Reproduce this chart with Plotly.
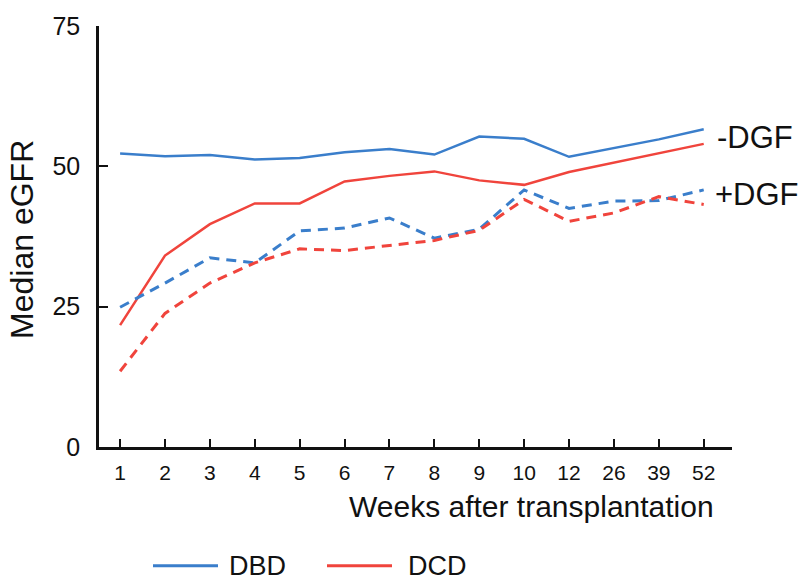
import plotly.graph_objects as go

weeks = ["1", "2", "3", "4", "5", "6", "7", "8", "9", "10", "12", "26", "39", "52"]
dbd_no_dgf = [52.3, 51.8, 52.0, 51.2, 51.5, 52.5, 53.1, 52.1, 55.3, 54.9, 51.7, 53.3, 54.8, 56.6]
dcd_no_dgf = [21.7, 34.1, 39.7, 43.4, 43.4, 47.3, 48.3, 49.1, 47.5, 46.7, 49.0, 50.7, 52.4, 54.0]
dbd_dgf = [24.9, 29.2, 33.7, 32.8, 38.5, 39.0, 40.8, 37.2, 38.8, 45.8, 42.5, 43.8, 43.9, 45.8]
dcd_dgf = [13.5, 23.8, 29.2, 32.8, 35.3, 35.0, 35.9, 36.8, 38.6, 44.1, 40.2, 41.7, 44.6, 43.2]

BLUE = "#3a7ecb"
RED = "#f0443c"
FONT = "Liberation Sans, Arial, sans-serif"

W, H = 800, 583
L, R, T, B = 99, 732, 18, 447


def px(x):
    return (x - L) / (R - L)


def py(y):
    return (B - y) / (B - T)


fig = go.Figure()
fig.add_trace(go.Scatter(x=weeks, y=dbd_no_dgf, mode="lines", name="DBD -DGF",
                         line=dict(color=BLUE, width=2.5)))
fig.add_trace(go.Scatter(x=weeks, y=dcd_no_dgf, mode="lines", name="DCD -DGF",
                         line=dict(color=RED, width=2.5)))
fig.add_trace(go.Scatter(x=weeks, y=dbd_dgf, mode="lines", name="DBD +DGF",
                         line=dict(color=BLUE, width=3, dash="10px,7px")))
fig.add_trace(go.Scatter(x=weeks, y=dcd_dgf, mode="lines", name="DCD +DGF",
                         line=dict(color=RED, width=3, dash="10px,7px")))

fig.update_layout(
    width=W, height=H,
    margin=dict(l=L, r=W - R, t=T, b=H - B),
    plot_bgcolor="white", paper_bgcolor="white",
    showlegend=False,
    font=dict(family=FONT, color="#111111"),
    xaxis=dict(
        type="category", range=[-0.47, 13.63],
        showline=True, linecolor="#111111", linewidth=2.5,
        ticks="inside", ticklen=8, tickwidth=2, tickcolor="#111111",
        tickfont=dict(size=21, family=FONT, color="#111111"),
        ticklabelstandoff=5,
        showgrid=False, zeroline=False,
    ),
    yaxis=dict(
        range=[0, 75], tickvals=[0, 25, 50, 75],
        showline=True, linecolor="#111111", linewidth=2.5,
        ticks="inside", ticklen=9, tickwidth=2, tickcolor="#111111",
        tickfont=dict(size=25, family=FONT, color="#111111"),
        ticklabelstandoff=11,
        showgrid=False, zeroline=False,
    ),
)

annotations = [
    dict(text="Median eGFR", x=px(22), y=py(236), textangle=-90,
         font=dict(size=32), xanchor="center", yanchor="middle"),
    dict(text="Weeks after transplantation", x=px(716), y=py(508),
         font=dict(size=30), xanchor="right", yanchor="middle"),
    dict(text="-DGF", x=px(715), y=py(132), font=dict(size=31),
         xanchor="left", yanchor="middle"),
    dict(text="+DGF", x=px(713), y=py(190), font=dict(size=31),
         xanchor="left", yanchor="middle"),
    dict(text="DBD", x=px(227), y=py(568), font=dict(size=27),
         xanchor="left", yanchor="middle"),
    dict(text="DCD", x=px(406), y=py(568), font=dict(size=27),
         xanchor="left", yanchor="middle"),
]
for a in annotations:
    a.update(xref="paper", yref="paper", showarrow=False)
    a["font"].update(family=FONT, color="#111111")
fig.update_layout(annotations=annotations)

fig.add_shape(type="line", xref="paper", yref="paper",
              x0=px(153), x1=px(218), y0=py(568), y1=py(568),
              line=dict(color=BLUE, width=3))
fig.add_shape(type="line", xref="paper", yref="paper",
              x0=px(327), x1=px(392), y0=py(568), y1=py(568),
              line=dict(color=RED, width=3))

fig.write_html("out.html")
